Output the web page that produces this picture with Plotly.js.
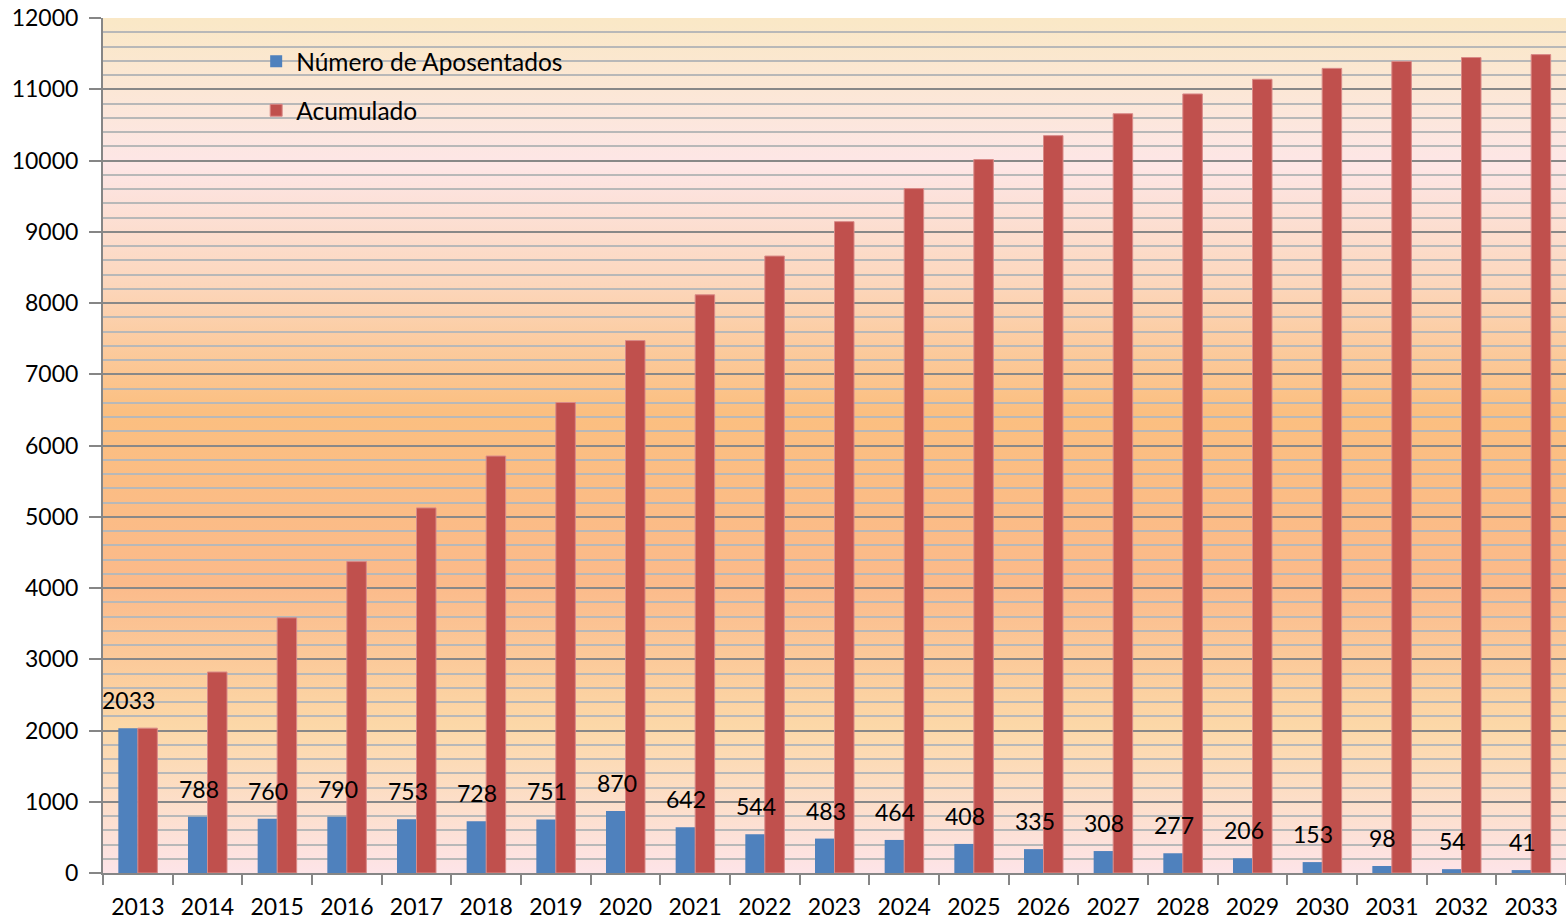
<!DOCTYPE html>
<html>
<head>
<meta charset="utf-8">
<script src="https://cdn.plot.ly/plotly-3.0.1.min.js"></script>
<style>html,body{margin:0;padding:0;background:#fff;}#chart{width:1566px;height:922px;}</style>
</head>
<body>
<div id="chart"></div>
<script>
const years = ['2013','2014','2015','2016','2017','2018','2019','2020','2021','2022','2023','2024','2025','2026','2027','2028','2029','2030','2031','2032','2033'];
const aposentados = [2033,788,760,790,753,728,751,870,642,544,483,464,408,335,308,277,206,153,98,54,41];
const acumulado = [2033,2821,3581,4371,5124,5852,6603,7473,8115,8659,9142,9606,10014,10349,10657,10934,11140,11293,11391,11445,11486];
const seriesNames = ['Número de Aposentados','Acumulado'];
const seriesColors = ['#4F81BD','#C0504D'];

const FONT = 'Lato, "Open Sans", sans-serif';

const gradSvg = '<svg xmlns="http://www.w3.org/2000/svg" width="100" height="1000" preserveAspectRatio="none">' +
  '<defs><linearGradient id="g" x1="0" y1="0" x2="0" y2="1">' +
  '<stop offset="0" stop-color="#FAE8C6"/>' +
  '<stop offset="0.17" stop-color="#FDE6E6"/>' +
  '<stop offset="0.30" stop-color="#FCD8C0"/>' +
  '<stop offset="0.46" stop-color="#FBBF80"/>' +
  '<stop offset="0.66" stop-color="#FBBA8A"/>' +
  '<stop offset="0.83" stop-color="#FCD8A8"/>' +
  '<stop offset="1" stop-color="#FDE4E8"/>' +
  '</linearGradient></defs><rect x="0" y="0" width="100" height="1000" fill="url(#g)"/></svg>';
const gradUri = 'data:image/svg+xml;charset=utf-8,' + encodeURIComponent(gradSvg);

const traces = [
  {type:'bar', x:years, y:aposentados, name:seriesNames[0], legendgroup:'a',
   marker:{color:seriesColors[0]}, hoverinfo:'skip'},
  {type:'bar', x:years, y:acumulado, name:seriesNames[1], legendgroup:'b',
   marker:{color:seriesColors[1], line:{color:'#D98A88', width:1}}, hoverinfo:'skip'}
];

const annotations = years.map((yr, i) => ({
  x: i, y: aposentados[i], xref:'x', yref:'y',
  text: String(aposentados[i]), showarrow:false,
  xanchor:'center', yanchor:'bottom', xshift:-9, yshift:12,
  font:{family:FONT, size:23, color:'#000'}
}));

const layout = {
  width:1566, height:922,
  margin:{l:103, r:0, t:18, b:49, pad:0},
  paper_bgcolor:'#ffffff', plot_bgcolor:'rgba(0,0,0,0)',
  font:{family:FONT, size:23, color:'#000'},
  barmode:'group', bargap:0.44, bargroupgap:0,
  showlegend:true,
  legend:{x:0.1047, xanchor:'left', y:0.9755, yanchor:'top', xref:'paper', yref:'paper',
          bgcolor:'rgba(0,0,0,0)', borderwidth:0, traceorder:'grouped', tracegroupgap:14,
          itemwidth:30, font:{family:FONT, size:24.5, color:'#000'}},
  xaxis:{type:'category', range:[-0.5, years.length - 0.5], autorange:false,
         showline:true, linecolor:'#868686', linewidth:2,
         ticks:'outside', tickson:'boundaries', ticklen:10, tickwidth:2, tickcolor:'#868686',
         ticklabelstandoff:12,
         tickangle:0, showgrid:false, zeroline:false, tickfont:{family:FONT, size:23, color:'#000'}},
  yaxis:{range:[0,12000], autorange:false, dtick:1000, tick0:0, tickformat:'d',
         showline:true, linecolor:'#868686', linewidth:2,
         ticks:'outside', ticklen:12, tickwidth:2, tickcolor:'#868686',
         ticklabelstandoff:6,
         showgrid:true, gridcolor:'#888888', gridwidth:2, zeroline:false,
         minor:{dtick:200, tick0:0, showgrid:true, gridcolor:'#B8B8B8', gridwidth:2, ticks:''},
         tickfont:{family:FONT, size:23, color:'#000'}},
  images:[{source:gradUri, xref:'paper', yref:'paper', x:0, y:1, sizex:1, sizey:1,
           xanchor:'left', yanchor:'top', sizing:'stretch', layer:'below'}],
  annotations:annotations
};

Plotly.newPlot('chart', traces, layout, {staticPlot:true, displayModeBar:false});
</script>
</body>
</html>
